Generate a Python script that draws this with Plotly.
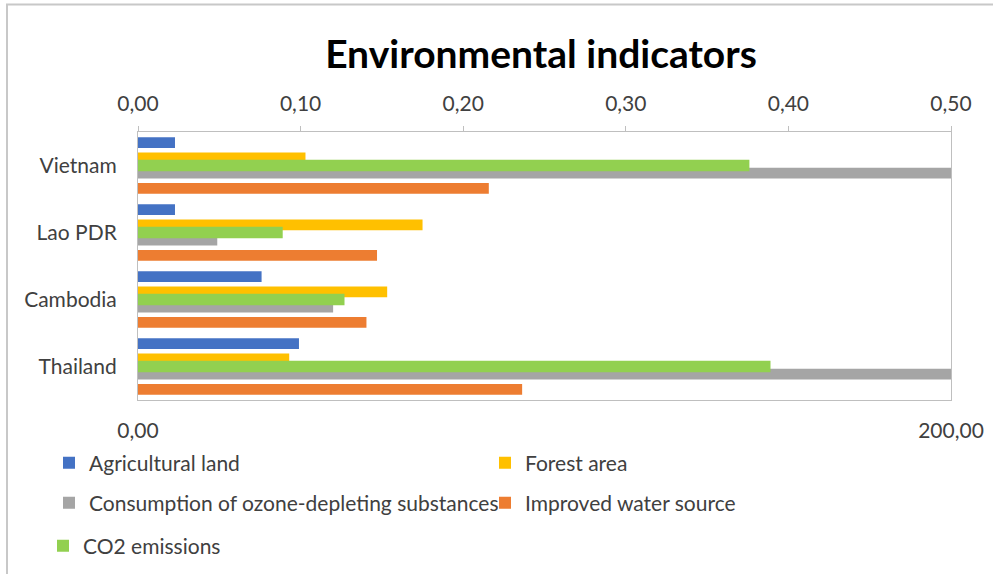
import plotly.graph_objects as go

# --- data -------------------------------------------------------------
countries = ["Vietnam", "Lao PDR", "Cambodia", "Thailand"]

agricultural_land = [9.1, 9.1, 30.4, 39.6]
forest_area = [41.2, 70.0, 61.3, 37.2]
ozone_depleting = [210.0, 19.5, 48.0, 210.0]
improved_water = [86.3, 58.8, 56.2, 94.5]
co2_emissions = [0.376, 0.089, 0.127, 0.389]

primary_ticks = [0, 200]
secondary_ticks = [0, 0.1, 0.2, 0.3, 0.4, 0.5]

# --- styling ----------------------------------------------------------
FONT = "Lato"
TEXT = "#404040"
AXIS = "#bfbfbf"
FS = 21

bar_w = 0.16      # bar thickness (category units)
pitch = 0.227     # distance between neighbouring bars in a group
co2_w = 0.175

primary = [
    ("Agricultural land", agricultural_land, "#4472c4", "legend"),
    ("Forest area", forest_area, "#ffc000", "legend"),
    ("Consumption of ozone-depleting substances", ozone_depleting, "#a5a5a5", "legend2"),
    ("Improved water source", improved_water, "#ed7d31", "legend2"),
]

fig = go.Figure()
n = len(primary)
for i, (name, vals, color, lg) in enumerate(primary):
    centre = (i - (n - 1) / 2) * pitch
    fig.add_trace(go.Bar(
        y=countries, x=vals, name=name, orientation="h",
        marker=dict(color=color, line=dict(width=0)),
        width=bar_w, offset=centre - bar_w / 2,
        xaxis="x", yaxis="y", legend=lg,
    ))

# CO2 emissions on the secondary (top) value axis, drawn over the group
fig.add_trace(go.Bar(
    y=countries, x=co2_emissions, name="CO2 emissions", orientation="h",
    marker=dict(color="#92d050", line=dict(width=0)),
    width=co2_w, offset=-co2_w / 2,
    xaxis="x2", yaxis="y", legend="legend3",
))

W, H = 993, 574
L, R, T, B = 138, 951, 132, 400
pw, ph = R - L, B - T


def px_x(x):
    return (x - L) / pw


def px_y(y):
    return (B - y) / ph


legend_common = dict(
    orientation="h", entrywidth=391, entrywidthmode="pixels",
    font=dict(family=FONT, size=FS, color=TEXT),
    bgcolor="rgba(0,0,0,0)", borderwidth=0,
    xanchor="left", yanchor="middle",
)

fig.update_layout(
    width=W, height=H,
    margin=dict(l=L, r=W - R, t=T, b=H - B, autoexpand=False),
    paper_bgcolor="white", plot_bgcolor="white",
    separators=",.",
    barmode="overlay",
    font=dict(family=FONT, color=TEXT),
    title=dict(
        text="Environmental indicators",
        font=dict(family=FONT, size=39, color="black", weight="bold"),
        x=px_x(541), xref="paper", xanchor="center",
        y=1 - 54 / H, yref="container", yanchor="middle",
    ),
    xaxis=dict(
        range=[0, 200], tickvals=primary_ticks, tickformat=".2f",
        showgrid=False, zeroline=False, showline=True, linecolor=AXIS, linewidth=1,
        ticks="", tickfont=dict(family=FONT, size=FS, color=TEXT),
        ticklabelstandoff=12, automargin=False,
    ),
    xaxis2=dict(
        range=[0, 0.5], tickvals=secondary_ticks, tickformat=".2f",
        overlaying="x", side="top", anchor="y",
        showgrid=False, zeroline=False, showline=True, linecolor=AXIS, linewidth=1,
        ticks="outside", ticklen=5, tickcolor=AXIS,
        tickfont=dict(family=FONT, size=FS, color=TEXT),
        ticklabelstandoff=7, automargin=False,
    ),
    yaxis=dict(
        type="category", categoryarray=countries, range=[3.5, -0.5],
        showgrid=False, zeroline=False, showline=True, linecolor=AXIS, linewidth=1,
        mirror=True, ticks="", tickfont=dict(family=FONT, size=FS, color=TEXT),
        ticklabelstandoff=16, automargin=False,
    ),
    legend=dict(legend_common, x=px_x(49), y=px_y(463)),
    legend2=dict(legend_common, x=px_x(49), y=px_y(503)),
    legend3=dict(legend_common, x=px_x(43), y=px_y(546)),
    shapes=[dict(
        type="rect", xref="paper", yref="paper", layer="below",
        x0=px_x(7), x1=px_x(1010), y0=px_y(590), y1=px_y(4.5),
        line=dict(color="#c8c8c8", width=2), fillcolor="rgba(0,0,0,0)",
    )],
)

fig.write_html("out.html")
